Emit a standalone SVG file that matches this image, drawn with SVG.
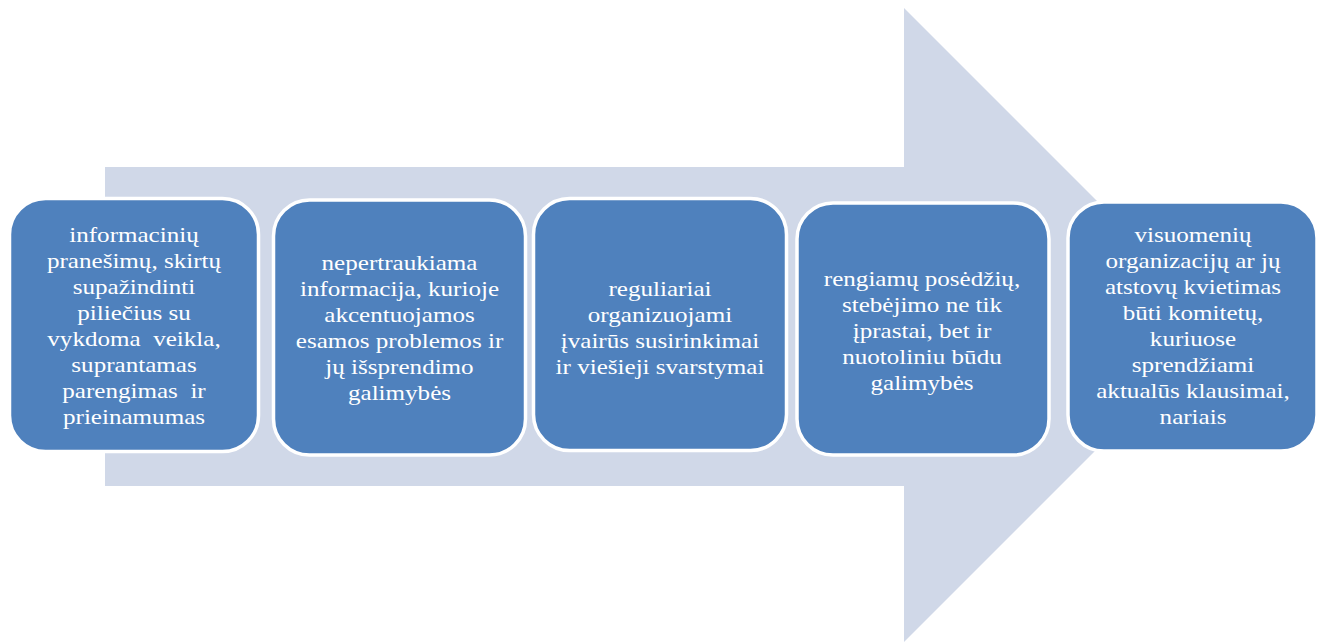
<svg xmlns="http://www.w3.org/2000/svg" width="1320" height="642" viewBox="0 0 1320 642">
<style>
.box{fill:#4F81BD;stroke:#FFFFFF;stroke-width:3.5}
.t{fill:#FFFFFF;font-family:"Liberation Serif","Times New Roman",serif;font-size:22px;text-anchor:middle}
</style>
<rect width="1320" height="642" fill="#FFFFFF"/>
<g id="arrow">
<polygon points="105,167 904,167 904,8 1221,325 904,642 904,486 105,486" fill="#D0D8E8"/>
</g>
<g id="connectors"></g>
<g id="node1">
<rect class="box" x="9.5" y="198.5" width="249" height="253" rx="36"/>
<g class="t" transform="translate(134,0) scale(1.14,1)">
<text x="0" y="242">informacinių</text>
<text x="0" y="268">pranešimų, skirtų</text>
<text x="0" y="294">supažindinti</text>
<text x="0" y="320">piliečius su</text>
<text x="0" y="346" xml:space="preserve">vykdoma  veikla,</text>
<text x="0" y="372">suprantamas</text>
<text x="0" y="398" xml:space="preserve">parengimas  ir</text>
<text x="0" y="424">prieinamumas</text>
</g>
</g>
<g id="node2">
<rect class="box" x="273.5" y="200" width="252" height="255" rx="36"/>
<g class="t" transform="translate(399.5,0) scale(1.14,1)">
<text x="0" y="270">nepertraukiama</text>
<text x="0" y="296">informacija, kurioje</text>
<text x="0" y="322">akcentuojamos</text>
<text x="0" y="348">esamos problemos ir</text>
<text x="0" y="374">jų išsprendimo</text>
<text x="0" y="400">galimybės</text>
</g>
</g>
<g id="node3">
<rect class="box" x="533.5" y="198.5" width="253" height="252" rx="36"/>
<g class="t" transform="translate(660,0) scale(1.14,1)">
<text x="0" y="296">reguliariai</text>
<text x="0" y="322">organizuojami</text>
<text x="0" y="348">įvairūs susirinkimai</text>
<text x="0" y="374">ir viešieji svarstymai</text>
</g>
</g>
<g id="node4">
<rect class="box" x="797" y="203" width="252" height="252" rx="36"/>
<g class="t" transform="translate(922,0) scale(1.14,1)">
<text x="0" y="286">rengiamų posėdžių,</text>
<text x="0" y="312">stebėjimo ne tik</text>
<text x="0" y="338">įprastai, bet ir</text>
<text x="0" y="364">nuotoliniu būdu</text>
<text x="0" y="390">galimybės</text>
</g>
</g>
<g id="node5">
<rect class="box" x="1068" y="202" width="249" height="249" rx="36"/>
<g class="t" transform="translate(1193,0) scale(1.14,1)">
<text x="0" y="242">visuomenių</text>
<text x="0" y="268">organizacijų ar jų</text>
<text x="0" y="294">atstovų kvietimas</text>
<text x="0" y="320">būti komitetų,</text>
<text x="0" y="346">kuriuose</text>
<text x="0" y="372">sprendžiami</text>
<text x="0" y="398">aktualūs klausimai,</text>
<text x="0" y="424">nariais</text>
</g>
</g>
</svg>
